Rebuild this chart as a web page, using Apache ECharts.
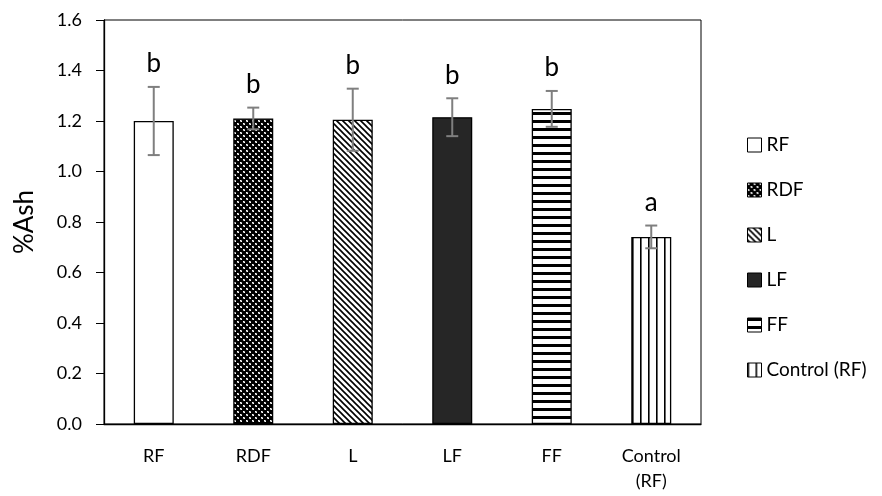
<!DOCTYPE html>
<html><head><meta charset="utf-8">
<script src="https://cdn.jsdelivr.net/npm/echarts@6/dist/echarts.min.js"></script>
<style>html,body{margin:0;padding:0;background:#fff}#c{width:882px;height:496px}</style>
</head><body><div id="c"></div>
<script>
const categories = ['RF', 'RDF', 'L', 'LF', 'FF', 'Control\n(RF)'];
const seriesNames = ['RF', 'RDF', 'L', 'LF', 'FF', 'Control (RF)'];
const means = [1.20, 1.21, 1.205, 1.215, 1.248, 0.741];
const errors = [0.135, 0.043, 0.123, 0.075, 0.071, 0.045];
const letters = ['b', 'b', 'b', 'b', 'b', 'a'];
const yTicks = { min: 0, max: 1.6, interval: 0.2 };

function pat(w, h, draw) {
  const c = document.createElement('canvas');
  c.width = w; c.height = h;
  const ctx = c.getContext('2d');
  ctx.fillStyle = '#fff'; ctx.fillRect(0, 0, w, h);
  draw(ctx);
  return { image: c, repeat: 'repeat' };
}
const fills = [
  '#ffffff',
  pat(6, 6, ctx => {
    ctx.fillStyle = '#000'; ctx.fillRect(0, 0, 6, 6);
    ctx.fillStyle = '#aaa';
    ctx.fillRect(0, 0, 2, 2); ctx.fillRect(3, 3, 2, 2);
    ctx.fillStyle = '#fff';
    ctx.fillRect(0, 0, 1, 1); ctx.fillRect(1, 1, 1, 1); ctx.fillRect(3, 3, 1, 1); ctx.fillRect(4, 4, 1, 1);
  }),
  pat(6, 6, ctx => {
    ctx.strokeStyle = '#000'; ctx.lineWidth = 1.6;
    ctx.beginPath(); ctx.moveTo(-1, -1); ctx.lineTo(7, 7);
    ctx.moveTo(5, -1); ctx.lineTo(7, 1); ctx.moveTo(-1, 5); ctx.lineTo(1, 7); ctx.stroke();
  }),
  '#262626',
  pat(4, 8, ctx => { ctx.fillStyle = '#000'; ctx.fillRect(0, 0, 4, 3); }),
  pat(8, 4, ctx => { ctx.fillStyle = '#000'; ctx.fillRect(0, 0, 1.6, 4); })
];

const chart = echarts.init(document.getElementById('c'));
const FONT = 'Lato';
const barSeries = seriesNames.map((name, i) => ({
  name, type: 'bar', stack: 'all', barWidth: 40,
  data: means.map((v, j) => (j === i ? v : '-')),
  itemStyle: { color: fills[i], borderColor: '#000', borderWidth: 1.3 },
  emphasis: { disabled: true }, animation: false
}));

const errSeries = {
  type: 'custom', silent: true, animation: false, z: 10,
  data: means.map((m, i) => [i, m, errors[i], letters[i]]),
  renderItem: (params, api) => {
    const x = api.value(0), m = api.value(1), e = api.value(2);
    const top = api.coord([x, m + e]), bot = api.coord([x, m - e]);
    const cap = 6;
    const st = { stroke: '#7f7f7f', lineWidth: 2 };
    return { type: 'group', children: [
      { type: 'line', shape: { x1: top[0], y1: top[1], x2: bot[0], y2: bot[1] }, style: st },
      { type: 'line', shape: { x1: top[0] - cap, y1: top[1], x2: top[0] + cap, y2: top[1] }, style: st },
      { type: 'line', shape: { x1: bot[0] - cap, y1: bot[1], x2: bot[0] + cap, y2: bot[1] }, style: st },
      { type: 'text', style: { text: letters[params.dataIndex], x: top[0], y: top[1] - 10, align: 'center', verticalAlign: 'bottom', font: '26px ' + FONT, fill: '#000' } }
    ] };
  }
};

chart.setOption({
  animation: false,
  grid: { left: 104, right: 181, top: 20, bottom: 72, show: true, borderColor: '#000', borderWidth: 1 },
  legend: {
    orient: 'vertical', left: 742, top: 130, itemGap: 25, itemWidth: 14, itemHeight: 14,
    icon: 'rect', data: seriesNames,
    textStyle: { fontFamily: FONT, fontSize: 19, color: '#000', lineHeight: 20 },
    itemStyle: { borderColor: '#000', borderWidth: 1 }, selectedMode: false
  },
  xAxis: {
    type: 'category', data: categories,
    axisLine: { lineStyle: { color: '#000', width: 1.3 } }, axisTick: { show: false },
    axisLabel: { fontFamily: FONT, fontSize: 18, color: '#000', margin: 20, lineHeight: 25, interval: 0 }
  },
  yAxis: {
    type: 'value', min: yTicks.min, max: yTicks.max, interval: yTicks.interval,
    name: '%Ash', nameLocation: 'middle', nameGap: 66,
    nameTextStyle: { fontFamily: FONT, fontSize: 26, color: '#000' },
    axisLine: { show: true, lineStyle: { color: '#000', width: 1.3 } },
    axisTick: { show: true, length: 8, lineStyle: { color: '#000' } },
    splitLine: { show: false },
    axisLabel: { fontFamily: FONT, fontSize: 18, color: '#000', margin: 22, formatter: v => v.toFixed(1) }
  },
  series: [...barSeries, errSeries]
});
</script></body></html>
